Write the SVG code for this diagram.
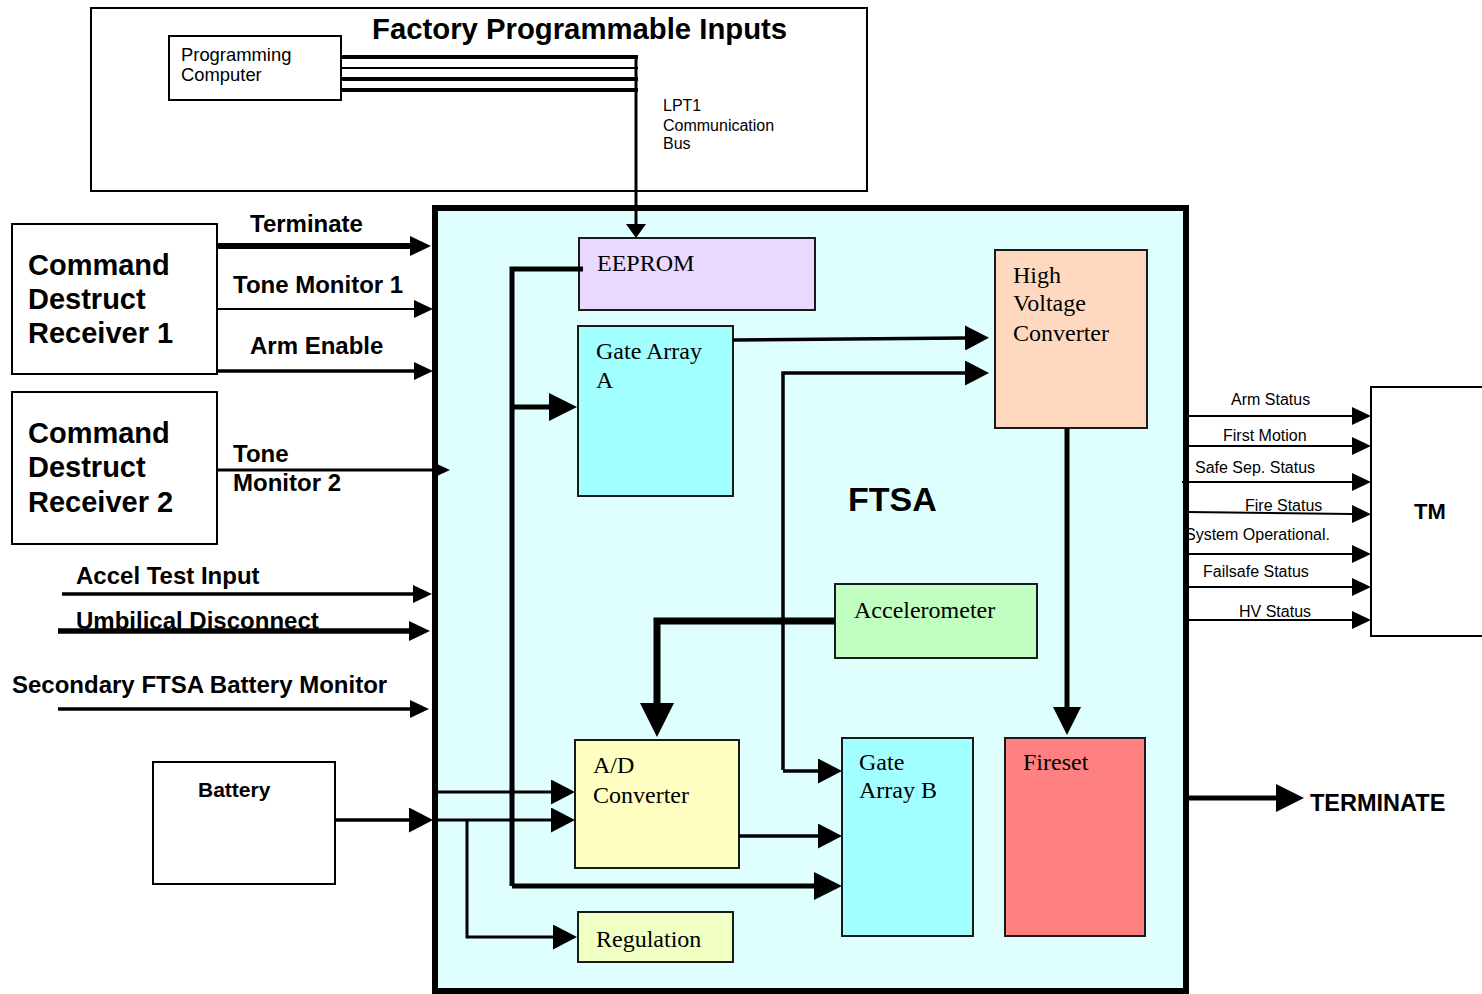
<svg xmlns="http://www.w3.org/2000/svg" width="1482" height="994" viewBox="0 0 1482 994">
<style>
.box{fill:#fff;stroke:#000;stroke-width:2}
.sans{font-family:"Liberation Sans",Arial,sans-serif;fill:#000}
.b{font-weight:bold}
.lbl{font-family:"Liberation Sans",Arial,sans-serif;font-weight:bold;font-size:24px;fill:#000}
.st{font-family:"Liberation Sans",Arial,sans-serif;font-size:16px;fill:#000}
.serif{font-family:"Liberation Serif","Times New Roman",serif;font-size:24px;fill:#000}
.ln{fill:none;stroke:#000;stroke-linecap:butt;stroke-linejoin:miter}
.blk{stroke:#1a1a1a;stroke-width:2}
</style>
<defs>
<marker id="a6" viewBox="0 0 13 12" markerWidth="13" markerHeight="12" refX="0" refY="6" orient="auto" markerUnits="userSpaceOnUse"><path d="M0,0L13,6L0,12z"/></marker>
<marker id="a9" viewBox="0 0 19 18" markerWidth="19" markerHeight="18" refX="0" refY="9" orient="auto" markerUnits="userSpaceOnUse"><path d="M0,0L19,9L0,18z"/></marker>
<marker id="a10" viewBox="0 0 21 20" markerWidth="21" markerHeight="20" refX="0" refY="10" orient="auto" markerUnits="userSpaceOnUse"><path d="M0,0L21,10L0,20z"/></marker>
<marker id="abus" viewBox="0 0 14 20" markerWidth="14" markerHeight="20" refX="0" refY="10" orient="auto" markerUnits="userSpaceOnUse"><path d="M0,0L14,10L0,20z"/></marker>
<marker id="a12" viewBox="0 0 24 25" markerWidth="24" markerHeight="25" refX="0" refY="12.5" orient="auto" markerUnits="userSpaceOnUse"><path d="M0,0L24,12.5L0,25z"/></marker>
<marker id="a14" viewBox="0 0 28 28" markerWidth="28" markerHeight="28" refX="0" refY="14" orient="auto" markerUnits="userSpaceOnUse"><path d="M0,0L28,14L0,28z"/></marker>
<marker id="a17" viewBox="0 0 34 34" markerWidth="34" markerHeight="34" refX="0" refY="17" orient="auto" markerUnits="userSpaceOnUse"><path d="M0,0L34,17L0,34z"/></marker>
</defs>

<rect width="1482" height="994" fill="#fff"/>

<g id="factory">
<rect x="91" y="8" width="776" height="183" class="box"/>
<text x="372" y="39" class="sans b" font-size="29.3">Factory Programmable Inputs</text>
<text x="663" y="111" class="sans" font-size="16">LPT1</text>
<text x="663" y="131" class="sans" font-size="16">Communication</text>
<text x="663" y="149" class="sans" font-size="16">Bus</text>
</g>

<g id="programming-computer">
<rect x="169" y="36" width="172" height="64" class="box"/>
<text x="181" y="61" class="sans" font-size="18.4">Programming</text>
<text x="181" y="81" class="sans" font-size="18.4">Computer</text>
</g>

<g id="cdr1">
<rect x="12" y="224" width="205" height="150" class="box"/>
<text x="28" y="275" class="sans b" font-size="29">Command</text>
<text x="28" y="309" class="sans b" font-size="29">Destruct</text>
<text x="28" y="343" class="sans b" font-size="29">Receiver 1</text>
</g>

<g id="cdr2">
<rect x="12" y="392" width="205" height="152" class="box"/>
<text x="28" y="443" class="sans b" font-size="29">Command</text>
<text x="28" y="477" class="sans b" font-size="29">Destruct</text>
<text x="28" y="512" class="sans b" font-size="29">Receiver 2</text>
</g>

<g id="battery">
<rect x="153" y="762" width="182" height="122" class="box"/>
<text x="198" y="797" class="sans b" font-size="21">Battery</text>
</g>

<g id="tm">
<rect x="1371" y="387" width="130" height="249" class="box"/>
<text x="1414" y="519" class="sans b" font-size="22">TM</text>
</g>

<g id="ftsa">
<rect x="435" y="208" width="751" height="783" fill="#DFFFFF" stroke="#000" stroke-width="6"/>
<text x="848" y="511" class="sans b" font-size="34">FTSA</text>
</g>

<g id="eeprom">
<rect x="579" y="238" width="236" height="72" fill="#E9D8FF" class="blk"/>
<text x="597" y="271" class="serif">EEPROM</text>
</g>

<g id="gate-array-a">
<rect x="578" y="326" width="155" height="170" fill="#A2FFFF" class="blk"/>
<text x="596" y="359" class="serif">Gate Array</text>
<text x="596" y="388" class="serif">A</text>
</g>

<g id="hv-converter">
<rect x="995" y="250" width="152" height="178" fill="#FFD9BF" class="blk"/>
<text x="1013" y="283" class="serif">High</text>
<text x="1013" y="311" class="serif">Voltage</text>
<text x="1013" y="341" class="serif">Converter</text>
</g>

<g id="accelerometer">
<rect x="835" y="584" width="202" height="74" fill="#C0FFC0" class="blk"/>
<text x="854" y="618" class="serif">Accelerometer</text>
</g>

<g id="ad-converter">
<rect x="575" y="740" width="164" height="128" fill="#FFFFC2" class="blk"/>
<text x="593" y="773" class="serif">A/D</text>
<text x="593" y="803" class="serif">Converter</text>
</g>

<g id="gate-array-b">
<rect x="842" y="738" width="131" height="198" fill="#A2FFFF" class="blk"/>
<text x="859" y="770" class="serif">Gate</text>
<text x="859" y="798" class="serif">Array B</text>
</g>

<g id="fireset">
<rect x="1005" y="738" width="140" height="198" fill="#FF8080" class="blk"/>
<text x="1023" y="770" class="serif">Fireset</text>
</g>

<g id="regulation">
<rect x="578" y="912" width="155" height="50" fill="#F0FFC2" class="blk"/>
<text x="596" y="947" class="serif">Regulation</text>
</g>

<g id="connectors">
<!-- LPT1 bus -->
<path class="ln" stroke-width="4" d="M341,57H638"/>
<path class="ln" stroke-width="2" d="M341,68H638"/>
<path class="ln" stroke-width="4" d="M341,79H638"/>
<path class="ln" stroke-width="4" d="M341,90H638"/>
<path class="ln" stroke-width="3" d="M636,55V224" marker-end="url(#abus)"/>

<!-- CDR1 outputs -->
<path class="ln" stroke-width="6" d="M217,246H410" marker-end="url(#a10)"/>
<text x="250" y="232" class="lbl">Terminate</text>
<path class="ln" stroke-width="2" d="M217,309H414" marker-end="url(#a9)"/>
<text x="233" y="293" class="lbl">Tone Monitor 1</text>
<path class="ln" stroke-width="3.5" d="M217,371H414" marker-end="url(#a9)"/>
<text x="250" y="354" class="lbl">Arm Enable</text>

<!-- CDR2 -->
<path class="ln" stroke-width="3" d="M217,470H437" marker-end="url(#a6)"/>
<text x="233" y="462" class="lbl">Tone</text>
<text x="233" y="491" class="lbl">Monitor 2</text>

<!-- other inputs -->
<text x="76" y="584" class="lbl">Accel Test Input</text>
<path class="ln" stroke-width="3.5" d="M62,594H413" marker-end="url(#a9)"/>
<text x="76" y="629" class="lbl">Umbilical Disconnect</text>
<path class="ln" stroke-width="5.5" d="M58,631H409" marker-end="url(#a10)"/>
<text x="12" y="693" class="lbl">Secondary FTSA Battery Monitor</text>
<path class="ln" stroke-width="3.5" d="M58,709H410" marker-end="url(#a9)"/>

<!-- battery -->
<path class="ln" stroke-width="3.5" d="M335,820H409" marker-end="url(#a12)"/>

<!-- internal -->
<path class="ln" stroke-width="5" stroke-linecap="round" d="M583,269H512V886"/>
<path class="ln" stroke-width="5" d="M512,407H549" marker-end="url(#a14)"/>
<path class="ln" stroke-width="5" d="M512,886H814" marker-end="url(#a14)"/>
<path class="ln" stroke-width="3.5" d="M733,340L965,338" marker-end="url(#a12)"/>
<path class="ln" stroke-width="3.5" d="M783,770V373H965" marker-end="url(#a12)"/>
<path class="ln" stroke-width="3.5" d="M783,771H818" marker-end="url(#a12)"/>
<path class="ln" stroke-width="3.5" d="M739,836H818" marker-end="url(#a12)"/>
<path class="ln" stroke-width="5" d="M1067,428V707" marker-end="url(#a14)"/>
<path class="ln" stroke-width="7" d="M835,621H657V703" marker-end="url(#a17)"/>
<path class="ln" stroke-width="3" d="M435,792H551" marker-end="url(#a12)"/>
<path class="ln" stroke-width="3" d="M435,820H551" marker-end="url(#a12)"/>
<path class="ln" stroke-width="3" d="M467,820V937H553" marker-end="url(#a12)"/>

<!-- outputs to TM -->
<path class="ln" stroke-width="2" d="M1187,416H1352" marker-end="url(#a9)"/>
<text x="1231" y="405" class="st">Arm Status</text>
<path class="ln" stroke-width="2" d="M1187,446H1352" marker-end="url(#a9)"/>
<text x="1223" y="441" class="st">First Motion</text>
<path class="ln" stroke-width="2" d="M1182,482H1352" marker-end="url(#a9)"/>
<text x="1195" y="473" class="st">Safe Sep. Status</text>
<path class="ln" stroke-width="2" d="M1187,512L1352,514" marker-end="url(#a9)"/>
<text x="1245" y="511" class="st">Fire Status</text>
<path class="ln" stroke-width="2" d="M1187,554H1352" marker-end="url(#a9)"/>
<text x="1185" y="540" class="st">System Operational.</text>
<path class="ln" stroke-width="2" d="M1187,587H1352" marker-end="url(#a9)"/>
<text x="1203" y="577" class="st">Failsafe Status</text>
<path class="ln" stroke-width="2" d="M1187,620H1352" marker-end="url(#a9)"/>
<text x="1239" y="617" class="st">HV Status</text>

<!-- TERMINATE -->
<path class="ln" stroke-width="5" d="M1187,798H1276" marker-end="url(#a14)"/>
<text x="1310" y="811" class="sans b" font-size="23.5">TERMINATE</text>
</g>
</svg>
